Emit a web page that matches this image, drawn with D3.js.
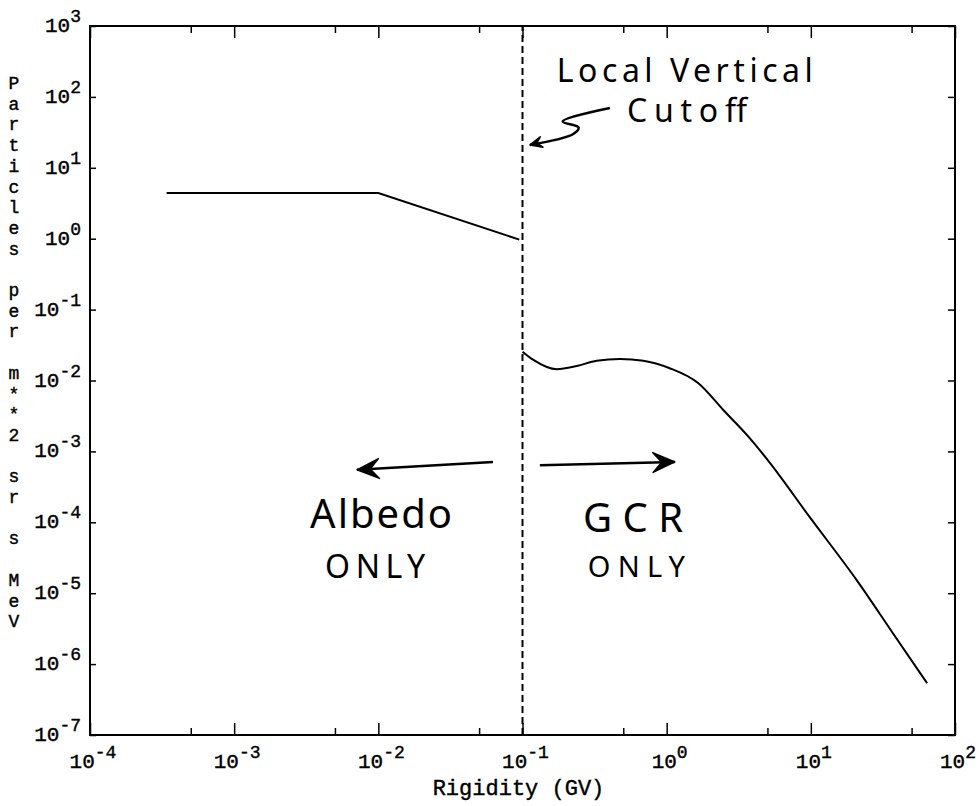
<!DOCTYPE html>
<html>
<head>
<meta charset="utf-8">
<script src="https://cdn.jsdelivr.net/npm/d3@7"></script>
<style>
  body { margin: 0; background: #fff; }
  svg { display: block; }
</style>
</head>
<body>
<div id="chart"></div>
<script>
// albedo branch (below the cutoff)
const albedoRigidity = [3.4e-4, 1.0e-2, 0.095];
const albedoFlux = [4.4, 4.4, 0.97];

// GCR branch (above the cutoff)
const gcrRigidity = [0.1, 0.119, 0.173, 0.238, 0.327, 0.474, 0.689, 1.05, 1.66, 2.47, 3.78, 5.2, 9.8, 20.8, 37, 64];
const gcrFlux = [0.0255, 0.0195, 0.0144, 0.016, 0.019, 0.0201, 0.019, 0.0149, 0.00914, 0.00384, 0.00153, 6.9e-4, 1.19e-4, 1.53e-5, 2.75e-6, 5.4e-7];

const cutoff = 0.1;

const xMajor = [-4, -3, -2, -1, 0, 1, 2];
const xMinor = [5e-4, 5e-3, 5e-2, 5e-1, 5, 50];
const yMajor = [-7, -6, -5, -4, -3, -2, -1, 0, 1, 2, 3];

const xTitle = "Rigidity (GV)";
const yTitle = "Particles per m**2 sr s MeV";

// hand-written notes, anchored in data units
const notes = [
  {text: "Local Vertical", x: 0.173, y: 160, size: 32, len: 256},
  {text: "Cutoff", x: 0.53, y: 44, size: 32, len: 120},
  {text: "Albedo", x: 0.00336, y: 8.3e-5, size: 40, len: 142},
  {text: "ONLY", x: 0.00427, y: 1.64e-5, size: 32, len: 100},
  {text: "GCR", x: 0.263, y: 7.3e-5, size: 40, len: 100},
  {text: "ONLY", x: 0.284, y: 1.69e-5, size: 29, len: 97}
];
const arrows = [
  {pts: [[0.0624, 7.1e-4], [0.00711, 5.5e-4]], head: 22},
  {pts: [[0.132, 6.4e-4], [1.14, 7.1e-4]], head: 22},
  {pts: [[0.404, 69.7], [0.19, 45], [0.245, 37], [0.225, 30], [0.1127, 21]], head: 12}
];

const width = 979, height = 806;
const margin = {top: 26, right: 24, bottom: 71, left: 90};
const mono = "'Liberation Mono', 'Courier New', monospace";

const svg = d3.select("#chart").append("svg")
    .attr("width", width)
    .attr("height", height);

const x = d3.scaleLog().domain([1e-4, 1e2]).range([margin.left, width - margin.right]);
const y = d3.scaleLog().domain([1e-7, 1e3]).range([height - margin.bottom, margin.top]);

// ticks, all pointing inward
function tickAxis(axis, vals, size) {
  return axis.tickValues(vals).tickSize(size).tickFormat("");
}
const majors = xMajor.map(e => Math.pow(10, e));
const yVals = yMajor.map(e => Math.pow(10, e));

const axes = svg.append("g");
axes.append("g").attr("transform", `translate(0,${y.range()[0]})`).call(tickAxis(d3.axisBottom(x), majors, -12));
axes.append("g").attr("transform", `translate(0,${y.range()[0]})`).call(tickAxis(d3.axisBottom(x), xMinor, -7));
axes.append("g").attr("transform", `translate(0,${y.range()[1]})`).call(tickAxis(d3.axisTop(x), majors, -12));
axes.append("g").attr("transform", `translate(0,${y.range()[1]})`).call(tickAxis(d3.axisTop(x), xMinor, -7));
axes.append("g").attr("transform", `translate(${x.range()[0]},0)`).call(tickAxis(d3.axisLeft(y), yVals, -6));
axes.append("g").attr("transform", `translate(${x.range()[1]},0)`).call(tickAxis(d3.axisRight(y), yVals, -7));
axes.selectAll(".domain").remove();
axes.selectAll(".tick line").attr("stroke", "#000").attr("stroke-width", 1.5);

svg.append("rect")
    .attr("x", x.range()[0])
    .attr("y", y.range()[1])
    .attr("width", x.range()[1] - x.range()[0])
    .attr("height", y.range()[0] - y.range()[1])
    .attr("fill", "none")
    .attr("stroke", "#000")
    .attr("stroke-width", 2);

// power-of-ten labels
function powLabel(t, e) {
  t.append("tspan").text("10");
  t.append("tspan").attr("dy", -10).attr("font-size", 18).text(e);
}

svg.append("g")
    .attr("font-family", mono).attr("font-size", 21).attr("fill", "#000")
    .attr("stroke", "#000").attr("stroke-width", 0.4)
  .selectAll("text")
  .data(xMajor)
  .join("text")
    .attr("x", d => x(Math.pow(10, d)) + 3)
    .attr("y", y.range()[0] + 33)
    .attr("text-anchor", "middle")
    .each(function(d) { powLabel(d3.select(this), d); });

svg.append("g")
    .attr("font-family", mono).attr("font-size", 21).attr("fill", "#000")
    .attr("stroke", "#000").attr("stroke-width", 0.4)
  .selectAll("text")
  .data(yMajor)
  .join("text")
    .attr("x", x.range()[0] - 9)
    .attr("y", d => y(Math.pow(10, d)) + 6)
    .attr("text-anchor", "end")
    .each(function(d) { powLabel(d3.select(this), d); });

// axis titles
svg.append("text")
    .attr("x", (x.range()[0] + x.range()[1]) / 2 - 4)
    .attr("y", height - 11)
    .attr("text-anchor", "middle")
    .attr("font-family", mono)
    .attr("font-size", 22)
    .attr("stroke", "#000").attr("stroke-width", 0.4)
    .text(xTitle);

svg.append("g")
    .attr("font-family", mono).attr("font-size", 18)
    .attr("stroke", "#000").attr("stroke-width", 0.4)
  .selectAll("text")
  .data(yTitle.split(""))
  .join("text")
    .attr("x", 14)
    .attr("y", (d, i) => 89 + i * 20.7)
    .attr("text-anchor", "middle")
    .text(d => d);

// cutoff
svg.append("line")
    .attr("x1", x(cutoff)).attr("x2", x(cutoff))
    .attr("y1", y.range()[0]).attr("y2", y.range()[1])
    .attr("stroke", "#000")
    .attr("stroke-width", 2)
    .attr("stroke-dasharray", "7,4");

const line = d3.line().x(d => x(d[0])).y(d => y(d[1]));

svg.append("path")
    .datum(d3.zip(albedoRigidity, albedoFlux))
    .attr("fill", "none")
    .attr("stroke", "#000")
    .attr("stroke-width", 2)
    .attr("d", line);

svg.append("path")
    .datum(d3.zip(gcrRigidity, gcrFlux))
    .attr("fill", "none")
    .attr("stroke", "#000")
    .attr("stroke-width", 2)
    .attr("d", line.curve(d3.curveMonotoneX));

// notes
svg.append("g")
    .attr("font-family", "'Noto Sans', sans-serif")
    .attr("fill", "#000")
  .selectAll("text")
  .data(notes)
  .join("text")
    .attr("x", d => x(d.x))
    .attr("y", d => y(d.y))
    .attr("font-size", d => d.size)
    .attr("textLength", d => d.len)
    .attr("lengthAdjust", "spacing")
    .text(d => d.text);

const plain = d3.line();
const smooth = d3.line().curve(d3.curveCatmullRom);
const ag = svg.append("g");
arrows.forEach(a => {
  const p = a.pts.map(d => [x(d[0]), y(d[1])]);
  ag.append("path")
      .attr("d", smooth(p))
      .attr("fill", "none")
      .attr("stroke", "#000")
      .attr("stroke-width", 2.5)
      .attr("stroke-linejoin", "round");
  const tip = p[p.length - 1], prev = p[p.length - 2];
  const dx = tip[0] - prev[0], dy = tip[1] - prev[1];
  const n = Math.hypot(dx, dy), ux = dx / n, uy = dy / n;
  const L = a.head, W = a.head * 0.45;
  const head = [
    tip,
    [tip[0] - ux * L - uy * W, tip[1] - uy * L + ux * W],
    [tip[0] - ux * L * 0.6, tip[1] - uy * L * 0.6],
    [tip[0] - ux * L + uy * W, tip[1] - uy * L - ux * W]
  ];
  ag.append("path")
      .attr("d", plain(head) + "Z")
      .attr("fill", "#000")
      .attr("stroke", "#000")
      .attr("stroke-width", 1.5)
      .attr("stroke-linejoin", "round");
});
</script>
</body>
</html>
